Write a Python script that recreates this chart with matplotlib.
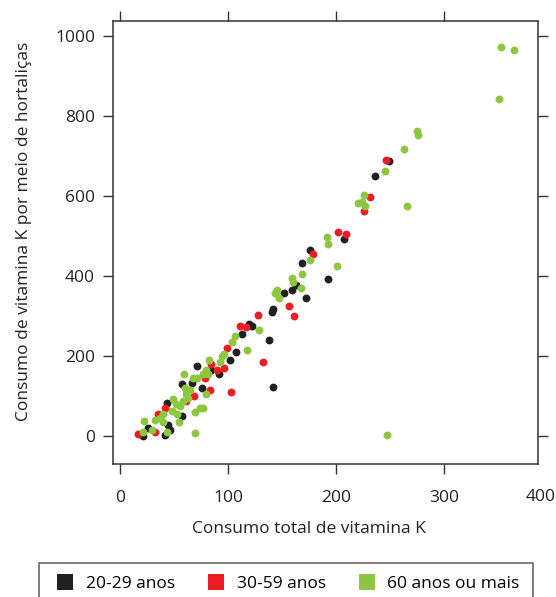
import matplotlib.pyplot as plt
from matplotlib.lines import Line2D

plt.rcParams['font.family'] = ['Open Sans', 'DejaVu Sans']

# consumo total (x) vs consumo via hortalicas (y), por faixa etaria
x_20_29 = [249, 236, 207, 176, 168.5, 192.6, 163, 159, 152, 172, 142, 140.5, 119.4, 122,
           113, 138, 107, 102, 91.7, 142, 71, 84, 57, 76, 66.7, 43.5, 57, 44.6, 26, 46, 41.7, 21]
y_20_29 = [687, 650, 492, 466, 432, 393, 378, 364, 358, 345, 318, 311, 281, 274,
           256, 241, 209, 189, 154, 121.5, 174, 164, 129, 121, 133, 83, 50, 27, 21, 14, 2, 0]

x_30_59 = [246, 231, 226, 202, 209, 178.5, 156.5, 161, 128, 111, 116.7, 99, 96, 90, 132,
           103, 84, 79, 83, 68.5, 61, 41.7, 35, 32, 16.7]
y_30_59 = [690, 597, 563, 510, 505, 455, 324, 301, 303, 276, 273, 221, 169, 166, 184,
           111, 181, 146, 114, 99, 87, 69, 54, 9, 4]

x_60 = [352.8, 364.8, 351, 275, 276, 263, 245, 226, 220, 224, 227, 266, 191.5, 192.6, 176,
        201, 168.5, 159, 160, 167.6, 145, 143.5, 147, 128.7, 106.5, 104, 117.3, 96, 94.4,
        92.6, 82, 80, 77, 59, 67.6, 71, 81.5, 60, 65, 80, 61, 63, 58, 49, 52, 55.5, 74, 77,
        69.4, 48, 40, 53, 32, 37, 22, 54.6, 40, 29.6, 43.5, 21, 69.4, 247]
y_60 = [972, 964, 842, 762, 752, 717, 662, 602, 582, 585, 575, 575, 497, 480, 439,
        424, 405, 395, 386, 370, 366, 358, 346, 266, 249, 234, 214, 204, 199,
        186, 189, 166, 154, 156, 144, 146, 154, 121, 116, 106, 104, 96, 87, 92, 79, 76, 71, 69,
        59, 62, 54, 54, 41, 44, 37, 34, 34, 16, 9, 9, 7, 2]

groups = ['20-29 anos', '30-59 anos', '60 anos ou mais']
colors = ['#231f20', '#ed1c24', '#8dc63f']
xticks = [0, 100, 200, 300]
yticks = [0, 200, 400, 600, 800, 1000]

fig = plt.figure(figsize=(5.56, 5.97), dpi=100)
ax = fig.add_axes([113 / 556, 1 - 464 / 597, 425 / 556, 443 / 597])

for xs, ys, c in zip([x_20_29, x_30_59, x_60], [y_20_29, y_30_59, y_60], colors):
    ax.scatter(xs, ys, s=32, marker='o', color=c, linewidths=0)

ax.set_xlim(-6.5, 387)
ax.set_ylim(-70, 1037.5)
ax.set_xticks(xticks)
ax.set_yticks(yticks)
ax.tick_params(axis='both', direction='out', length=7, width=1.0, color='#333333',
               labelsize=12.5, labelcolor='#222222')
ax.tick_params(axis='x', top=True, pad=12)
ax.tick_params(axis='y', right=True, pad=6)
for sp in ax.spines.values():
    sp.set_linewidth(1.1)
    sp.set_color('#333333')

# lattice-style label for 400 sitting at the right edge
ax.text(1.005, -0.075, '400', transform=ax.transAxes, ha='center', va='center',
        fontsize=12.5, color='#222222')

ax.set_xlabel('Consumo total de vitamina K', fontsize=12.5, color='#222222')
ax.xaxis.set_label_coords(0.46, -0.128)
ax.set_ylabel('Consumo de vitamina K por meio de hortaliças', fontsize=12.5, color='#222222')
ax.yaxis.set_label_coords(-0.19, 0.525)

handles = [Line2D([], [], linestyle='none', marker='s', markersize=11.5,
                  markerfacecolor=c, markeredgewidth=0) for c in colors]
leg = fig.legend(handles, groups, loc='upper left', bbox_to_anchor=(39 / 556, 1 - 563 / 597),
                 ncol=3, fontsize=12.5, frameon=True, fancybox=False, borderpad=0.75,
                 borderaxespad=0, handlelength=1.5, handletextpad=0.45, columnspacing=1.6)
leg.get_frame().set_edgecolor('#333333')
leg.get_frame().set_linewidth(1.1)

fig.savefig('out.png', dpi=100)
